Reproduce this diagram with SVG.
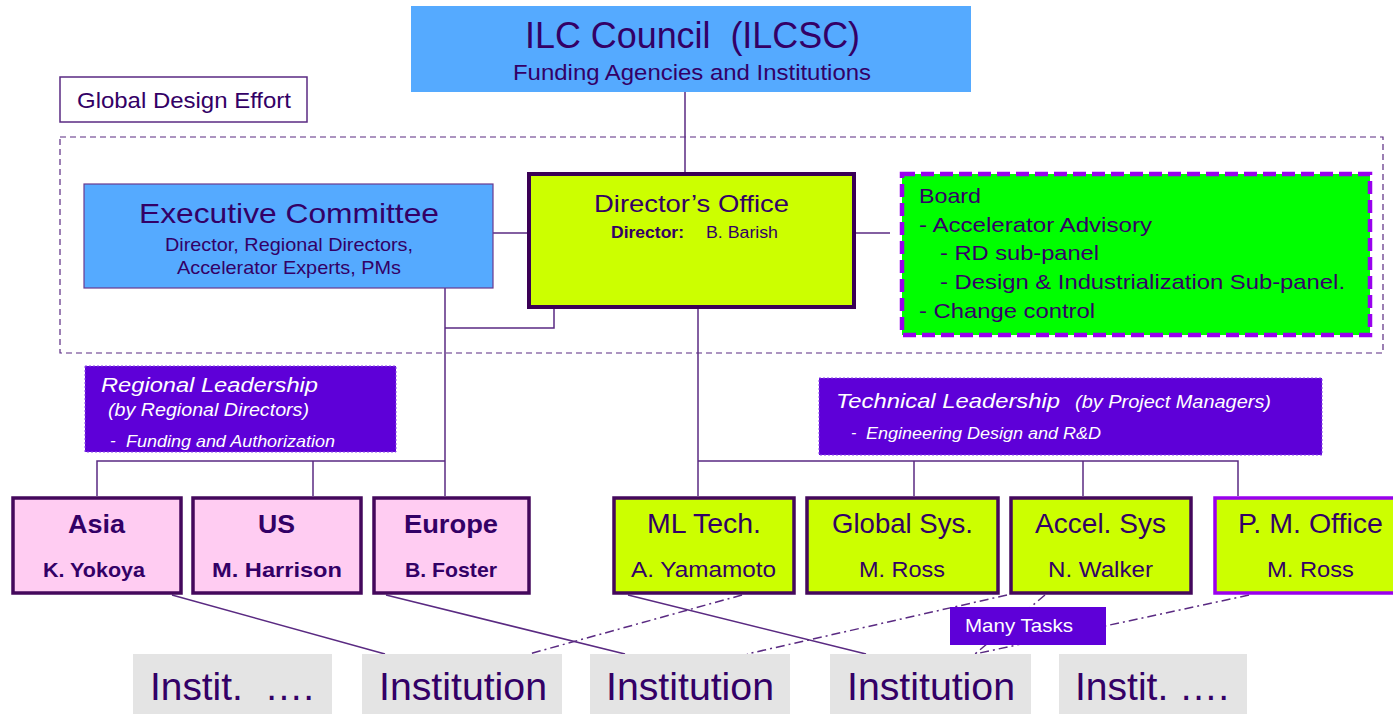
<svg xmlns="http://www.w3.org/2000/svg" width="1393" height="714" viewBox="0 0 1393 714">
  <style>
    text { font-family: "Liberation Sans", Arial, sans-serif; fill: #330066; }
    .w { fill: #ffffff; font-style: italic; }
    .link { stroke: #5a2a82; stroke-width: 1.5; fill: none; }
    .dd { stroke: #5a2a82; stroke-width: 1.5; fill: none; stroke-dasharray: 9 4 2 4; }
    .blue { fill: #55aaff; }
    .lead { fill: #5e00d8; stroke: #8a4ae8; stroke-width: 1; stroke-dasharray: 2 2; }
    .region { fill: #ffccf2; stroke: #44085c; stroke-width: 3.5; }
    .tech { fill: #ccff00; stroke: #44085c; stroke-width: 3.5; }
    .inst { fill: #e4e4e4; }
    .bold { font-weight: bold; }
    .board-t { font-size: 21px; }
    .rname { font-size: 25px; font-weight: bold; }
    .rlead { font-size: 21px; font-weight: bold; }
    .tname { font-size: 27px; }
    .tlead { font-size: 22px; }
    .inst-t { font-size: 39px; }
  </style>

  <!-- connectors -->
  <g id="connectors">
    <line class="link" x1="685" y1="92" x2="685" y2="172"/>
    <line class="link" x1="493" y1="233" x2="527" y2="233"/>
    <line class="link" x1="856" y1="233" x2="890" y2="233"/>
    <polyline class="link" points="554,309 554,328 445,328"/>
    <line class="link" x1="445" y1="288" x2="445" y2="496"/>
    <polyline class="link" points="97,496 97,461 445,461"/>
    <line class="link" x1="313" y1="461" x2="313" y2="496"/>
    <line class="link" x1="698" y1="309" x2="698" y2="496"/>
    <polyline class="link" points="698,461 1238,461 1238,496"/>
    <line class="link" x1="914" y1="461" x2="914" y2="496"/>
    <line class="link" x1="1083" y1="461" x2="1083" y2="496"/>
    <!-- groups down to institutions -->
    <line class="link" x1="172" y1="595" x2="385" y2="654"/>
    <line class="link" x1="386" y1="595" x2="625" y2="654"/>
    <line class="link" x1="628" y1="595" x2="866" y2="654"/>
    <line class="dd" x1="742" y1="595" x2="529" y2="654"/>
    <line class="dd" x1="1007" y1="595" x2="747" y2="654"/>
    <line class="dd" x1="1045" y1="595" x2="975" y2="654"/>
    <line class="dd" x1="1249" y1="595" x2="975" y2="654"/>
  </g>

  <!-- ILC Council -->
  <g id="ilc-council">
    <rect class="blue" x="411" y="6" width="560" height="86"/>
    <text x="525" y="48" font-size="36" textLength="335" lengthAdjust="spacingAndGlyphs" xml:space="preserve">ILC Council  (ILCSC)</text>
    <text x="513" y="80" font-size="22" textLength="358" lengthAdjust="spacingAndGlyphs">Funding Agencies and Institutions</text>
  </g>

  <!-- Global Design Effort -->
  <g id="gde-label">
    <rect x="60" y="77" width="247" height="45" fill="#ffffff" stroke="#5a2a82" stroke-width="1.5"/>
    <text x="77" y="108" font-size="22" textLength="214" lengthAdjust="spacingAndGlyphs">Global Design Effort</text>
  </g>
  <g id="gde-frame">
    <rect x="60" y="137" width="1323" height="216" fill="none" stroke="#5a2a82" stroke-width="1.2" stroke-dasharray="6 4"/>
  </g>

  <!-- Executive Committee -->
  <g id="executive-committee">
    <rect class="blue" x="84" y="184" width="409" height="104" stroke="#6a3a90" stroke-width="1.2"/>
    <text x="139" y="223" font-size="28" textLength="300" lengthAdjust="spacingAndGlyphs">Executive Committee</text>
    <text x="165" y="251" font-size="18.5" textLength="248" lengthAdjust="spacingAndGlyphs">Director, Regional Directors,</text>
    <text x="177" y="274" font-size="18.5" textLength="224" lengthAdjust="spacingAndGlyphs">Accelerator Experts, PMs</text>
  </g>

  <!-- Director's Office -->
  <g id="directors-office">
    <rect x="529" y="174" width="325" height="133" fill="#ccff00" stroke="#3a0055" stroke-width="4"/>
    <text x="594" y="212" font-size="24.5" textLength="195" lengthAdjust="spacingAndGlyphs">Director’s Office</text>
    <text x="611" y="238" font-size="16" class="bold" textLength="73" lengthAdjust="spacingAndGlyphs">Director:</text>
    <text x="706" y="238" font-size="16" textLength="72" lengthAdjust="spacingAndGlyphs">B. Barish</text>
  </g>

  <!-- Board -->
  <g id="board">
    <rect x="902" y="174" width="468" height="161" fill="#00ff00" stroke="#9900ee" stroke-width="4.5" stroke-dasharray="13 6"/>
    <text class="board-t" x="919" y="203" textLength="62" lengthAdjust="spacingAndGlyphs">Board</text>
    <text class="board-t" x="919" y="232" textLength="233" lengthAdjust="spacingAndGlyphs">- Accelerator Advisory</text>
    <text class="board-t" x="940" y="260" textLength="159" lengthAdjust="spacingAndGlyphs">- RD sub-panel</text>
    <text class="board-t" x="940" y="289" textLength="405" lengthAdjust="spacingAndGlyphs">- Design &amp; Industrialization Sub-panel.</text>
    <text class="board-t" x="919" y="318" textLength="176" lengthAdjust="spacingAndGlyphs">- Change control</text>
  </g>

  <!-- Regional Leadership -->
  <g id="regional-leadership">
    <rect class="lead" x="85" y="366" width="311" height="86"/>
    <text class="w" x="101" y="392" font-size="20.5" textLength="217" lengthAdjust="spacingAndGlyphs">Regional Leadership</text>
    <text class="w" x="108" y="416" font-size="18" textLength="201" lengthAdjust="spacingAndGlyphs">(by Regional Directors)</text>
    <text class="w" x="110" y="446" font-size="17" font-style="normal">-</text>
    <text class="w" x="126" y="447" font-size="17" textLength="209" lengthAdjust="spacingAndGlyphs">Funding and Authorization</text>
  </g>

  <!-- Technical Leadership -->
  <g id="technical-leadership">
    <rect class="lead" x="819" y="378" width="503" height="77"/>
    <text class="w" x="836" y="408" font-size="21" textLength="224" lengthAdjust="spacingAndGlyphs">Technical Leadership</text>
    <text class="w" x="1075" y="408" font-size="18.5" textLength="196" lengthAdjust="spacingAndGlyphs">(by Project Managers)</text>
    <text class="w" x="851" y="438" font-size="16" font-style="normal">-</text>
    <text class="w" x="866" y="439" font-size="16" textLength="235" lengthAdjust="spacingAndGlyphs">Engineering Design and R&amp;D</text>
  </g>

  <!-- Regions -->
  <g id="asia">
    <rect class="region" x="13" y="498" width="168" height="95"/>
    <text class="rname" x="68" y="533" textLength="57" lengthAdjust="spacingAndGlyphs">Asia</text>
    <text class="rlead" x="43" y="577" textLength="102" lengthAdjust="spacingAndGlyphs">K. Yokoya</text>
  </g>
  <g id="us">
    <rect class="region" x="193" y="498" width="168" height="95"/>
    <text class="rname" x="258" y="533" textLength="37" lengthAdjust="spacingAndGlyphs">US</text>
    <text class="rlead" x="212" y="577" textLength="130" lengthAdjust="spacingAndGlyphs">M. Harrison</text>
  </g>
  <g id="europe">
    <rect class="region" x="374" y="498" width="155" height="95"/>
    <text class="rname" x="404" y="533" textLength="94" lengthAdjust="spacingAndGlyphs">Europe</text>
    <text class="rlead" x="405" y="577" textLength="92" lengthAdjust="spacingAndGlyphs">B. Foster</text>
  </g>

  <!-- Technical groups -->
  <g id="ml-tech">
    <rect class="tech" x="614" y="498" width="180" height="95"/>
    <text class="tname" x="647" y="533" textLength="114" lengthAdjust="spacingAndGlyphs">ML Tech.</text>
    <text class="tlead" x="631" y="577" textLength="145" lengthAdjust="spacingAndGlyphs">A. Yamamoto</text>
  </g>
  <g id="global-sys">
    <rect class="tech" x="807" y="498" width="191" height="95"/>
    <text class="tname" x="832" y="533" textLength="141" lengthAdjust="spacingAndGlyphs">Global Sys.</text>
    <text class="tlead" x="859" y="577" textLength="86" lengthAdjust="spacingAndGlyphs">M. Ross</text>
  </g>
  <g id="accel-sys">
    <rect class="tech" x="1011" y="498" width="180" height="95"/>
    <text class="tname" x="1035" y="533" textLength="131" lengthAdjust="spacingAndGlyphs">Accel. Sys</text>
    <text class="tlead" x="1048" y="577" textLength="105" lengthAdjust="spacingAndGlyphs">N. Walker</text>
  </g>
  <g id="pm-office">
    <rect x="1215" y="498" width="182" height="95" fill="#ccff00" stroke="#9900ee" stroke-width="3.5"/>
    <text class="tname" x="1238" y="533" textLength="145" lengthAdjust="spacingAndGlyphs">P. M. Office</text>
    <text class="tlead" x="1267" y="577" textLength="87" lengthAdjust="spacingAndGlyphs">M. Ross</text>
  </g>

  <!-- Many Tasks -->
  <g id="many-tasks">
    <rect x="950" y="607" width="156" height="38" fill="#5e00d8"/>
    <text x="965" y="632" font-size="19" style="fill:#ffffff" textLength="108" lengthAdjust="spacingAndGlyphs">Many Tasks</text>
  </g>

  <!-- Institutions -->
  <g id="inst-1">
    <rect class="inst" x="133" y="654" width="199" height="60"/>
    <text class="inst-t" x="150" y="700" textLength="164" lengthAdjust="spacingAndGlyphs" xml:space="preserve">Instit.  ….</text>
  </g>
  <g id="inst-2">
    <rect class="inst" x="362" y="654" width="200" height="60"/>
    <text class="inst-t" x="379" y="700" textLength="168" lengthAdjust="spacingAndGlyphs">Institution</text>
  </g>
  <g id="inst-3">
    <rect class="inst" x="590" y="654" width="200" height="60"/>
    <text class="inst-t" x="606" y="700" textLength="168" lengthAdjust="spacingAndGlyphs">Institution</text>
  </g>
  <g id="inst-4">
    <rect class="inst" x="830" y="654" width="201" height="60"/>
    <text class="inst-t" x="847" y="700" textLength="168" lengthAdjust="spacingAndGlyphs">Institution</text>
  </g>
  <g id="inst-5">
    <rect class="inst" x="1059" y="654" width="188" height="60"/>
    <text class="inst-t" x="1075" y="700" textLength="154" lengthAdjust="spacingAndGlyphs">Instit. ….</text>
  </g>
</svg>
